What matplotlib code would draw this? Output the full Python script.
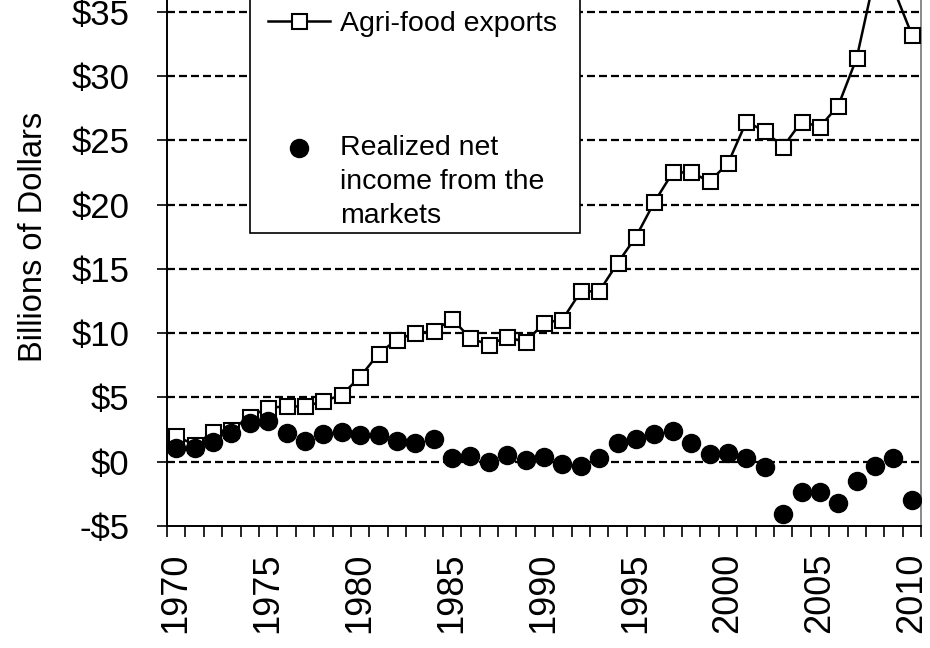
import numpy as np
import matplotlib
matplotlib.use("Agg")
import matplotlib.pyplot as plt
from matplotlib.legend_handler import HandlerLine2D
from matplotlib.path import Path
from matplotlib.ticker import FuncFormatter

plt.rcParams["font.family"] = ["Liberation Sans", "DejaVu Sans"]

# Dados (bilhões de dólares)
years = [1970, 1971, 1972, 1973, 1974, 1975, 1976, 1977, 1978, 1979,
         1980, 1981, 1982, 1983, 1984, 1985, 1986, 1987, 1988, 1989,
         1990, 1991, 1992, 1993, 1994, 1995, 1996, 1997, 1998, 1999,
         2000, 2001, 2002, 2003, 2004, 2005, 2006, 2007, 2008, 2009,
         2010]
exports = [2.0, 1.3, 2.3, 2.5, 3.5, 4.2, 4.3, 4.3, 4.7, 5.2,
           6.6, 8.4, 9.5, 10.0, 10.15, 11.1, 9.6, 9.1, 9.7, 9.3,
           10.8, 11.05, 13.25, 13.25, 15.45, 17.5, 20.2, 22.5, 22.5, 21.8,
           23.2, 26.45, 25.7, 24.5, 26.45, 26.05, 27.7, 31.4, 37.9, 36.8,
           33.2]
net_income = [1.1, 1.1, 1.55, 2.25, 3.0, 3.15, 2.2, 1.6, 2.15, 2.3,
              2.05, 2.1, 1.6, 1.45, 1.75, 0.25, 0.45, -0.05, 0.55, 0.15,
              0.35, -0.2, -0.35, 0.25, 1.45, 1.8, 2.15, 2.4, 1.45, 0.6,
              0.7, 0.3, -0.45, -4.1, -2.35, -2.35, -3.2, -1.5, -0.3, 0.3,
              -3.0]
y_ticks = [-5, 0, 5, 10, 15, 20, 25, 30, 35, 40]
label_years = [1970, 1975, 1980, 1985, 1990, 1995, 2000, 2005, 2010]

x = np.arange(len(years))

fig = plt.figure(figsize=(9.3, 6.48), dpi=100)
# o eixo vai até $40, mas a imagem original está cortada no topo
ax = fig.add_axes([0.1796, 0.1883, 0.8108, 0.8928])

ax.plot(x, exports, color="black", lw=1.8, marker="s", ms=10.8,
        mfc="white", mec="black", mew=1.5, zorder=3,
        label="Agri-food exports")
ax.plot(x, net_income, ls="none", marker="o", ms=13, color="black",
        zorder=4, label="Realized net\nincome from the\nmarkets")

ax.set_xlim(-0.5, len(years) - 0.5)
ax.set_ylim(-5, 40)

# eixo y
ax.set_yticks(y_ticks)
ax.yaxis.set_major_formatter(FuncFormatter(
    lambda v, p: f"-${abs(int(v))}" if v < 0 else f"${int(v)}"))
ax.tick_params(axis="y", direction="out", length=7, width=1.2,
               labelsize=25, pad=20)
for v in y_ticks[1:]:
    ax.axhline(v, color="black", lw=1.6, ls=(0, (3.6, 1.8)), zorder=1)

# eixo x: marcas entre categorias, rótulos a cada 5 anos
ax.set_xticks(np.arange(-0.5, len(years), 1))
ax.set_xticklabels([])
ax.tick_params(axis="x", which="major", direction="out", length=8, width=1.2)
ax.set_xticks([years.index(y) for y in label_years], minor=True)
ax.set_xticklabels([str(y) for y in label_years], minor=True, rotation=90)
ax.tick_params(axis="x", which="minor", length=0, labelsize=26, pad=19)

ax.set_ylabel("Billions of Dollars", fontsize=23.5, labelpad=16)

ax.spines["top"].set_visible(False)
for s in ["left", "bottom"]:
    ax.spines[s].set_linewidth(1.4)
ax.spines["right"].set_linewidth(1.2)
ax.spines["right"].set_color("#777777")


class ShiftHandler(HandlerLine2D):
    # recua o início do símbolo (dx) e sobe o marcador (dy), em pontos
    def __init__(self, dx=0.0, dy=0.0, **kw):
        super().__init__(**kw)
        self.dx = dx
        self.dy = dy

    def create_artists(self, legend, orig_handle, xdescent, ydescent,
                       width, height, fontsize, trans):
        arts = super().create_artists(legend, orig_handle, xdescent, ydescent,
                                      width, height, fontsize, trans)
        for a in arts:
            xd = np.asarray(a.get_xdata(), dtype=float)
            x0, x1 = xd.min(), xd.max()
            span = (x1 - x0) if x1 > x0 else 1.0
            a.set_xdata(x0 + self.dx + (xd - x0) * (span - self.dx) / span)
            a.set_ydata(np.asarray(a.get_ydata(), dtype=float) + self.dy)
        return arts


def tall_box(x0, y0, width, height, mutation_size):
    # caixa da legenda prolongada para cima (sai da imagem, como no original)
    top = y0 + height + 40
    return Path([(x0, y0), (x0 + width, y0), (x0 + width, top),
                 (x0, top), (x0, y0)], closed=True)


handles, labels = ax.get_legend_handles_labels()
leg = ax.legend(handles, labels, loc="lower left",
                bbox_to_anchor=(0.110, 0.5065, 0.4377, 0.2), mode="expand",
                borderaxespad=0, fontsize=20.5, frameon=True, fancybox=False,
                framealpha=1, edgecolor="black", labelspacing=3.45,
                handlelength=2.66, handletextpad=0.35, borderpad=0.15,
                handler_map={handles[0]: ShiftHandler(dx=9.9),
                             handles[1]: ShiftHandler(dx=9.9, dy=24.5)})
leg.get_frame().set_boxstyle(tall_box)
leg.get_frame().set_linewidth(1.2)
for t in leg.get_texts():
    t.set_linespacing(1.38)
leg.set_zorder(5)

plt.savefig("out.png", dpi=100)
